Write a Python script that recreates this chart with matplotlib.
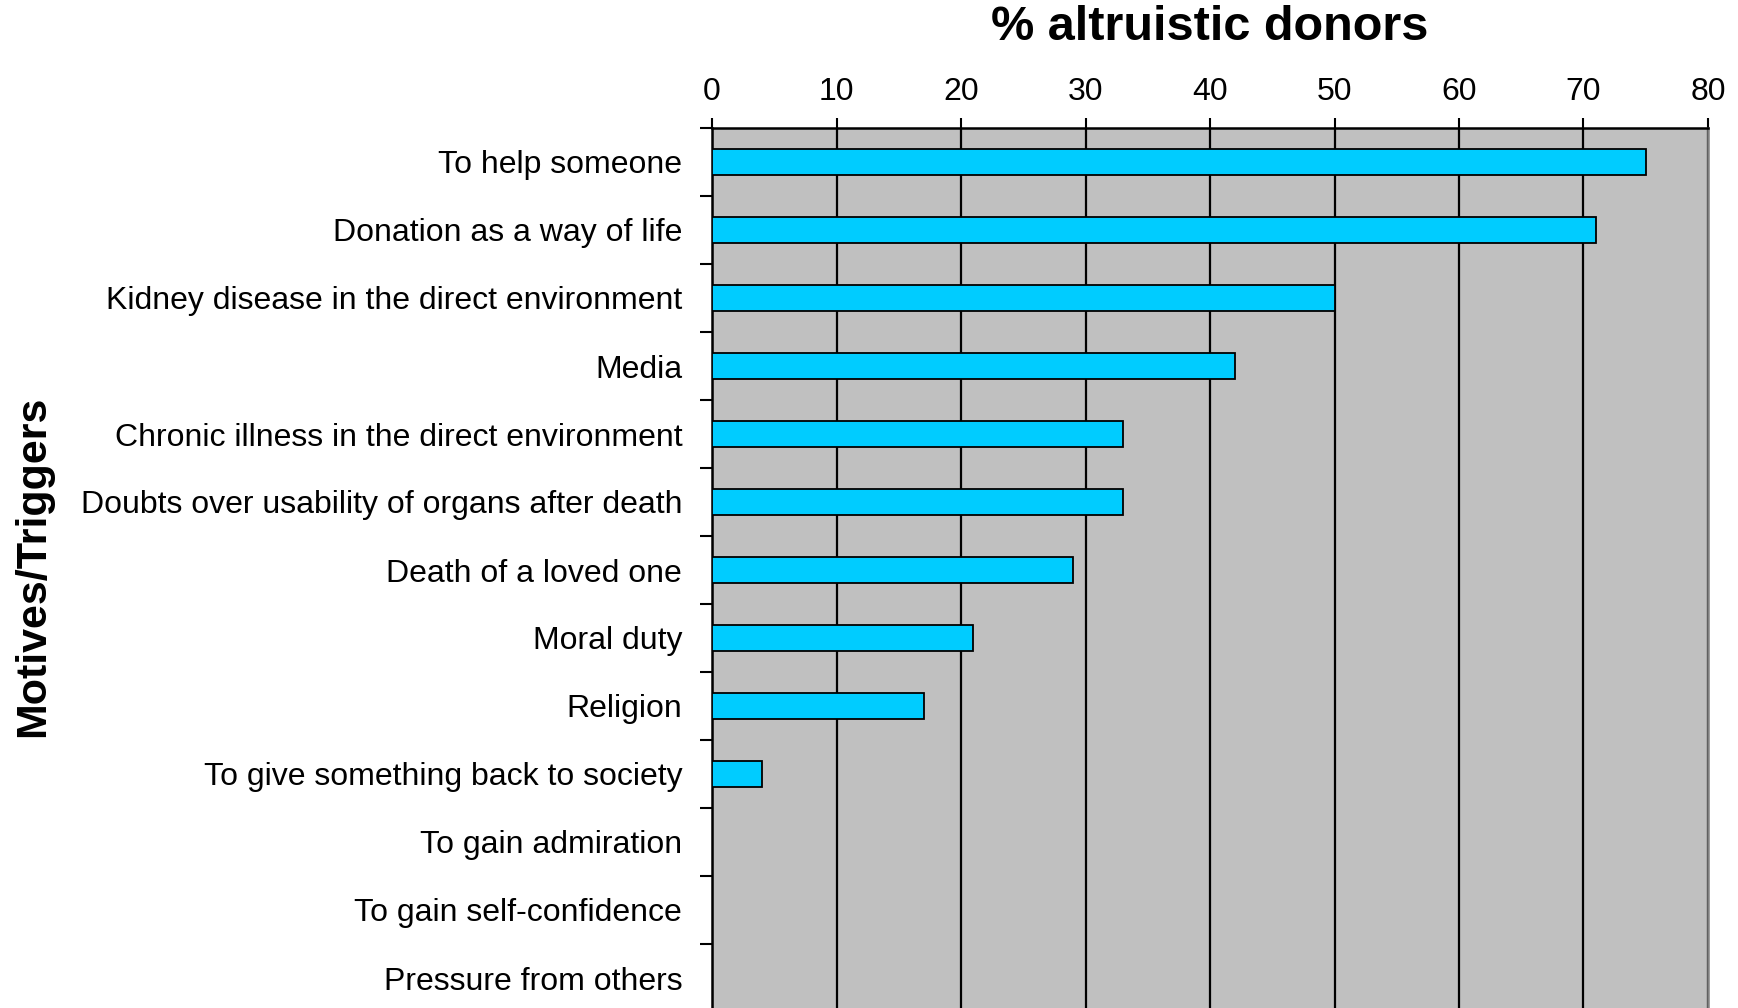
import numpy as np
import matplotlib.pyplot as plt

# Data
motives = ['To help someone', 'Donation as a way of life',
           'Kidney disease in the direct environment', 'Media',
           'Chronic illness in the direct environment',
           'Doubts over usability of organs after death',
           'Death of a loved one', 'Moral duty', 'Religion',
           'To give something back to society', 'To gain admiration',
           'To gain self-confidence', 'Pressure from others']
percent = [75, 71, 50, 42, 33, 33, 29, 21, 17, 4, 0, 0, 0]
x_ticks = [0, 10, 20, 30, 40, 50, 60, 70, 80]

plt.rcParams['font.family'] = ['Liberation Sans', 'DejaVu Sans']

W, H = 1738, 1008
fig = plt.figure(figsize=(W / 100, H / 100), dpi=100)
ax = fig.add_axes([712 / W, -4 / H, 996 / W, 884 / H])

y = np.arange(len(motives))
ax.barh(y, percent, height=0.37, color='#00CCFF',
        edgecolor='black', linewidth=1.3, zorder=3)

ax.set_facecolor('#C0C0C0')
ax.set_xlim(0, 80)
ax.set_ylim(len(motives) - 0.5, -0.5)

# x axis on top
ax.xaxis.tick_top()
ax.set_xticks(x_ticks)
ax.set_xticklabels([str(v) for v in x_ticks])
ax.tick_params(axis='x', which='major', direction='out', length=7,
               width=1.5, pad=8, labelsize=23, color='black')
ax.xaxis.grid(True, color='black', linewidth=1.6, zorder=1)
ax.set_axisbelow(True)

# y axis: ticks at category boundaries, labels at centres
ax.set_yticks(np.arange(len(motives) + 1) - 0.5)
ax.set_yticklabels([])
ax.tick_params(axis='y', which='major', direction='out', length=8.6,
               width=1.5, color='black')
ax.set_yticks(y, minor=True)
ax.set_yticklabels(motives, minor=True)
ax.tick_params(axis='y', which='minor', length=0, pad=21.5,
               labelsize=23)

for side in ['left', 'top']:
    ax.spines[side].set_color('black')
    ax.spines[side].set_linewidth(1.8)
ax.spines['right'].set_color('#808080')
ax.spines['right'].set_linewidth(1.8)
ax.spines['bottom'].set_visible(False)

fig.text(1210 / W, 1 - 28 / H, '% altruistic donors', fontsize=35,
         fontweight='bold', ha='center', va='center')
fig.text(33 / W, 1 - 566 / H, 'Motives/Triggers', fontsize=31,
         fontweight='bold', rotation=90, ha='center', va='center')

fig.savefig('out.png', dpi=100)
